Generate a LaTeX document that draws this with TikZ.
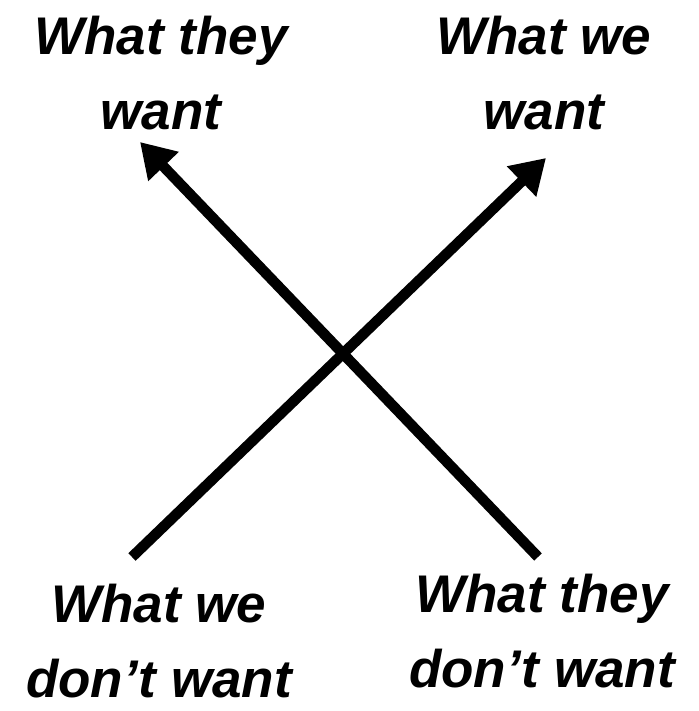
\documentclass[tikz,border=0pt]{standalone}
\usepackage{fontspec}
\setmainfont{Liberation Sans}
\usetikzlibrary{arrows.meta}
\begin{document}
\begin{tikzpicture}[x=1pt,y=1pt,
  lbl/.style={align=center,inner sep=0pt,font=\fontsize{53}{75}\selectfont\bfseries\itshape},
  bigarrow/.style={line width=10.5pt,-{Triangle[length=34pt,width=40pt]}}]
\useasboundingbox (0,0) rectangle (698,711);
\node[lbl] (tl) at (161,638) {What they\\want};
\node[lbl] (tr) at (544,638) {What we\\want};
\node[lbl] (bl) at (159,70) {What we\\don’t want};
\node[lbl] (br) at (542,80) {What they\\don’t want};
\coordinate (a1s) at (132,154);
\coordinate (a1e) at (546,553);
\coordinate (a2s) at (538,154);
\coordinate (a2e) at (140,569);
\draw[bigarrow] (a1s) -- (a1e);
\draw[bigarrow] (a2s) -- (a2e);
\end{tikzpicture}
\end{document}
